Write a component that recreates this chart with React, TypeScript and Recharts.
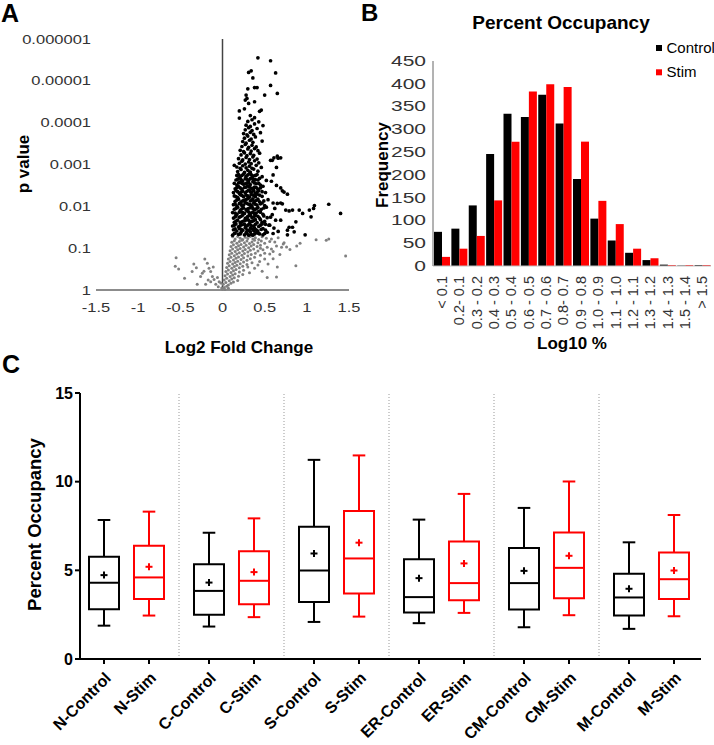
import React from 'react'
import {
  ScatterChart,
  Scatter,
  BarChart,
  Bar,
  ComposedChart,
  XAxis,
  YAxis,
  ReferenceLine,
  ReferenceArea,
} from 'recharts'

const FONT = '"Liberation Sans", Arial, Helvetica, sans-serif'

// ---------- A: volcano plot, [log2 fold change, -log10 p value]
const foldTicks = [-1.5, -1, -0.5, 0, 0.5, 1, 1.5]
const pTicks = [0, 1, 2, 3, 4, 5, 6]
const pTickLabels = ['1', '0.1', '0.01', '0.001', '0.0001', '0.00001', '0.000001']

const significantPoints: [number, number][] = [
  [0.42, 5.55], [0.57, 5.48], [0.63, 5.19], [0.34, 5.24], [0.31, 5.2], [0.36, 5.07], [0.41, 4.84], [0.38, 4.84],
  [0.57, 4.89], [0.65, 4.7], [0.5, 4.66], [0.3, 4.81], [0.28, 4.66], [0.29, 4.58], [0.27, 4.54], [0.38, 4.5],
  [0.31, 4.46], [0.2, 4.28], [0.26, 4.33], [0.44, 4.27], [0.46, 4.3], [0.2, 4.11], [0.33, 4.17], [0.38, 4.12],
  [0.65, 3.2], [0.59, 3.1], [0.66, 3.15], [0.69, 3.16], [0.61, 3.16], [0.57, 3.1], [0.14, 2.98], [0.64, 2.93],
  [0.64, 2.5], [0.69, 2.44], [0.73, 2.34], [0.77, 2.29], [0.6, 2.08], [0.65, 2.07], [0.69, 2.08], [0.71, 2.06],
  [0.75, 1.91], [0.79, 1.89], [0.83, 1.91], [0.91, 1.91], [1.03, 1.91], [1.08, 1.95], [1.09, 2.02], [1.26, 2.05],
  [1.4, 1.83], [0.95, 1.83], [1.05, 1.75], [0.63, 1.67], [0.69, 1.67], [0.87, 1.63], [0.79, 1.5], [0.83, 1.5],
  [0.77, 1.43], [0.85, 1.39], [0.98, 1.32], [0.77, 1.32], [0.66, 1.4], [0.61, 1.48], [0.71, 2.37], [0.58, 2.6],
  [0.6, 2.75], [0.62, 1.95], [0.59, 1.8], [0.56, 1.55], [0.6, 1.35],
  [0.12, 1.31], [0.15, 1.36], [0.19, 1.33], [0.22, 1.38], [0.26, 1.32], [0.29, 1.35], [0.33, 1.39], [0.36, 1.31],
  [0.4, 1.37], [0.44, 1.34], [0.48, 1.32], [0.53, 1.38], [0.13, 1.44], [0.17, 1.41], [0.2, 1.47], [0.24, 1.43],
  [0.27, 1.49], [0.31, 1.42], [0.35, 1.46], [0.38, 1.48], [0.42, 1.41], [0.46, 1.45], [0.51, 1.43], [0.12, 1.53],
  [0.16, 1.58], [0.19, 1.51], [0.23, 1.56], [0.28, 1.52], [0.32, 1.59], [0.34, 1.54], [0.39, 1.57], [0.43, 1.52],
  [0.47, 1.58], [0.55, 1.55], [0.14, 1.62], [0.18, 1.67], [0.21, 1.61], [0.25, 1.65], [0.29, 1.69], [0.33, 1.63],
  [0.37, 1.66], [0.41, 1.61], [0.45, 1.68], [0.5, 1.64], [0.13, 1.72], [0.16, 1.77], [0.2, 1.74], [0.24, 1.79],
  [0.27, 1.71], [0.3, 1.76], [0.35, 1.73], [0.39, 1.78], [0.44, 1.72], [0.49, 1.77], [0.57, 1.74], [0.12, 1.85],
  [0.17, 1.81], [0.22, 1.87], [0.26, 1.83], [0.29, 1.89], [0.32, 1.82], [0.36, 1.86], [0.4, 1.84], [0.43, 1.88],
  [0.48, 1.81], [0.14, 1.93], [0.18, 1.98], [0.21, 1.91], [0.25, 1.96], [0.3, 1.94], [0.34, 1.99], [0.38, 1.92],
  [0.42, 1.97], [0.46, 1.93], [0.52, 1.98], [0.13, 2.04], [0.17, 2.01], [0.2, 2.07], [0.23, 2.02], [0.27, 2.09],
  [0.31, 2.05], [0.35, 2.01], [0.37, 2.08], [0.41, 2.03], [0.45, 2.06], [0.5, 2.02], [0.15, 2.12], [0.19, 2.17],
  [0.22, 2.11], [0.26, 2.15], [0.3, 2.19], [0.33, 2.13], [0.36, 2.18], [0.4, 2.14], [0.44, 2.11], [0.54, 2.16],
  [0.14, 2.25], [0.18, 2.21], [0.21, 2.28], [0.25, 2.23], [0.28, 2.27], [0.32, 2.22], [0.37, 2.26], [0.41, 2.29],
  [0.47, 2.24], [0.13, 2.33], [0.16, 2.38], [0.2, 2.31], [0.24, 2.36], [0.27, 2.32], [0.31, 2.39], [0.35, 2.34],
  [0.39, 2.31], [0.43, 2.37], [0.51, 2.33], [0.15, 2.42], [0.19, 2.47], [0.23, 2.41], [0.26, 2.45], [0.3, 2.49],
  [0.34, 2.43], [0.38, 2.46], [0.42, 2.41], [0.48, 2.48], [0.14, 2.55], [0.17, 2.51], [0.21, 2.58], [0.25, 2.53],
  [0.29, 2.56], [0.33, 2.52], [0.36, 2.59], [0.4, 2.54], [0.45, 2.51], [0.16, 2.63], [0.2, 2.68], [0.24, 2.61],
  [0.27, 2.66], [0.31, 2.62], [0.35, 2.69], [0.39, 2.64], [0.44, 2.67], [0.52, 2.62], [0.17, 2.74], [0.21, 2.71],
  [0.25, 2.77], [0.28, 2.72], [0.32, 2.78], [0.36, 2.73], [0.41, 2.76], [0.47, 2.71], [0.18, 2.83], [0.22, 2.88],
  [0.26, 2.81], [0.3, 2.86], [0.33, 2.82], [0.37, 2.89], [0.42, 2.84], [0.17, 2.94], [0.21, 2.91], [0.24, 2.97],
  [0.28, 2.92], [0.32, 2.96], [0.35, 2.91], [0.4, 2.98], [0.46, 2.93], [0.2, 3.03], [0.23, 3.08], [0.27, 3.01],
  [0.31, 3.06], [0.34, 3.02], [0.38, 3.09], [0.43, 3.04], [0.19, 3.14], [0.24, 3.11], [0.28, 3.17], [0.32, 3.12],
  [0.36, 3.18], [0.41, 3.13], [0.22, 3.23], [0.26, 3.28], [0.29, 3.21], [0.33, 3.26], [0.37, 3.22], [0.44, 3.27],
  [0.21, 3.34], [0.25, 3.31], [0.3, 3.37], [0.34, 3.32], [0.38, 3.38], [0.42, 3.33], [0.23, 3.43], [0.27, 3.48],
  [0.31, 3.41], [0.35, 3.46], [0.4, 3.42], [0.24, 3.55], [0.28, 3.51], [0.32, 3.58], [0.36, 3.53], [0.47, 3.56],
  [0.26, 3.63], [0.3, 3.68], [0.34, 3.61], [0.39, 3.66], [0.25, 3.74], [0.29, 3.71], [0.33, 3.77], [0.37, 3.72],
  [0.45, 3.76], [0.27, 3.83], [0.31, 3.88], [0.35, 3.81], [0.41, 3.86], [0.28, 3.94], [0.33, 3.91], [0.38, 3.97],
  [0.48, 3.93], [0.3, 4.03], [0.35, 4.07], [0.43, 4.02],
  [0.14, 1.35], [0.21, 1.34], [0.28, 1.37], [0.34, 1.33], [0.42, 1.36], [0.5, 1.35], [0.31, 1.31], [0.38, 1.34],
  [0.15, 1.46], [0.22, 1.45], [0.29, 1.44], [0.33, 1.48], [0.4, 1.44], [0.48, 1.47], [0.37, 1.42], [0.14, 1.55],
  [0.21, 1.54], [0.26, 1.57], [0.3, 1.55], [0.37, 1.53], [0.45, 1.55], [0.51, 1.57], [0.16, 1.65], [0.23, 1.63],
  [0.27, 1.66], [0.31, 1.67], [0.35, 1.64], [0.39, 1.68], [0.47, 1.62], [0.15, 1.75], [0.22, 1.76], [0.29, 1.73],
  [0.33, 1.78], [0.37, 1.75], [0.42, 1.76], [0.53, 1.73], [0.15, 1.84], [0.2, 1.86], [0.24, 1.85], [0.31, 1.87],
  [0.34, 1.84], [0.38, 1.83], [0.45, 1.86], [0.16, 1.95], [0.23, 1.94], [0.28, 1.92], [0.32, 1.96], [0.36, 1.95],
  [0.4, 1.94], [0.49, 1.96], [0.15, 2.06], [0.22, 2.05], [0.25, 2.03], [0.29, 2.07], [0.33, 2.04], [0.39, 2.05],
  [0.47, 2.08], [0.17, 2.15], [0.24, 2.13], [0.28, 2.16], [0.35, 2.15], [0.38, 2.12], [0.42, 2.17], [0.49, 2.13],
  [0.16, 2.23], [0.23, 2.26], [0.3, 2.25], [0.34, 2.28], [0.39, 2.23], [0.44, 2.27], [0.18, 2.35], [0.22, 2.34],
  [0.29, 2.36], [0.33, 2.35], [0.37, 2.38], [0.41, 2.34], [0.47, 2.35], [0.17, 2.45], [0.21, 2.44], [0.28, 2.46],
  [0.32, 2.47], [0.36, 2.43], [0.4, 2.45], [0.45, 2.44], [0.19, 2.56], [0.23, 2.55], [0.27, 2.54], [0.31, 2.57],
  [0.38, 2.56], [0.43, 2.55], [0.18, 2.65], [0.22, 2.64], [0.29, 2.65], [0.33, 2.66], [0.37, 2.65], [0.42, 2.63],
  [0.19, 2.76], [0.23, 2.74], [0.3, 2.75], [0.34, 2.76], [0.39, 2.74],
]

const otherPoints: [number, number][] = [
  [0.12, 1.27], [0.15, 1.22], [0.18, 1.28], [0.21, 1.24], [0.24, 1.21], [0.27, 1.26], [0.3, 1.23], [0.33, 1.28],
  [0.36, 1.22], [0.39, 1.25], [0.43, 1.21], [0.47, 1.27], [0.52, 1.24], [0.58, 1.22], [0.66, 1.25], [0.11, 1.14],
  [0.14, 1.18], [0.17, 1.12], [0.2, 1.16], [0.23, 1.19], [0.26, 1.13], [0.29, 1.17], [0.32, 1.11], [0.35, 1.15],
  [0.38, 1.19], [0.42, 1.13], [0.46, 1.17], [0.5, 1.12], [0.56, 1.16], [0.72, 1.1], [0.1, 1.04], [0.13, 1.08],
  [0.16, 1.02], [0.19, 1.06], [0.22, 1.09], [0.25, 1.03], [0.28, 1.07], [0.31, 1.01], [0.34, 1.05], [0.37, 1.09],
  [0.41, 1.04], [0.45, 1.07], [0.53, 1.02], [0.64, 1.05], [0.76, 1.03], [0.09, 0.94], [0.12, 0.98], [0.15, 0.92],
  [0.18, 0.96], [0.21, 0.99], [0.24, 0.93], [0.27, 0.97], [0.3, 0.91], [0.33, 0.95], [0.37, 0.98], [0.42, 0.93],
  [0.48, 0.96], [0.6, 0.92], [0.8, 0.97], [0.08, 0.84], [0.11, 0.88], [0.14, 0.82], [0.17, 0.86], [0.2, 0.89],
  [0.23, 0.83], [0.26, 0.87], [0.3, 0.81], [0.34, 0.85], [0.39, 0.88], [0.45, 0.83], [0.56, 0.86], [0.07, 0.74],
  [0.1, 0.78], [0.13, 0.72], [0.16, 0.76], [0.19, 0.79], [0.22, 0.73], [0.25, 0.77], [0.29, 0.71], [0.33, 0.75],
  [0.38, 0.78], [0.5, 0.74], [0.06, 0.64], [0.09, 0.68], [0.12, 0.62], [0.15, 0.66], [0.18, 0.69], [0.21, 0.63],
  [0.25, 0.67], [0.29, 0.61], [0.35, 0.65], [0.44, 0.68], [0.05, 0.54], [0.08, 0.58], [0.11, 0.52], [0.14, 0.56],
  [0.17, 0.59], [0.2, 0.53], [0.24, 0.57], [0.3, 0.55], [0.38, 0.52], [0.04, 0.44], [0.07, 0.48], [0.1, 0.42],
  [0.13, 0.46], [0.16, 0.49], [0.2, 0.43], [0.25, 0.47], [0.32, 0.41], [0.03, 0.34], [0.06, 0.38], [0.09, 0.32],
  [0.12, 0.36], [0.15, 0.39], [0.19, 0.33], [0.24, 0.37], [0.02, 0.24], [0.05, 0.28], [0.08, 0.22], [0.11, 0.26],
  [0.14, 0.29], [0.18, 0.23], [0.01, 0.14], [0.04, 0.18], [0.07, 0.12], [0.1, 0.16], [0.13, 0.19], [-0.02, 0.17],
  [0, 0.02], [0.02, 0.06], [0.05, 0.09], [-0.01, 0.05], [0.07, 0.04], [0.03, 0.01],
  [-0.55, 0.77], [-0.56, 0.57], [-0.52, 0.5], [-0.45, 0.28], [-0.34, 0.62], [-0.31, 0.53], [-0.24, 0.4],
  [-0.21, 0.74], [-0.18, 0.64], [-0.16, 0.52], [-0.14, 0.44], [-0.12, 0.32], [-0.26, 0.32], [-0.3, 0.14],
  [-0.2, 0.14], [-0.14, 0.2], [-0.08, 0.14], [-0.05, 0.08], [-0.1, 0.25], [-0.06, 0.3], [-0.17, 0.24],
  [-0.22, 0.45], [-0.11, 0.55], [-0.04, 0.2], [-0.36, 0.44],
  [0.65, 0.55], [0.87, 0.58], [0.53, 0.3], [1.46, 0.81], [1.11, 1.2], [1.23, 1.19], [1.26, 1.22], [0.7, 1.02],
  [0.73, 1.13], [0.62, 1.15], [0.58, 0.98], [0.68, 0.85], [0.54, 0.62], [0.47, 0.45], [0.42, 0.6], [0.88, 1.05],
  [0.92, 1.12], [0.5, 0.88], [0.45, 1.0], [0.6, 0.75], [0.64, 0.31],
]

// ---------- B: histogram of percent occupancy
const bins = [
  '< 0.1', '0.2- 0.1', '0.3 - 0.2', '0.4 - 0.3', '0.5 - 0.4', '0.6 - 0.5', '0.7 - 0.6', '0.8- 0.7',
  '0.9 - 0.8', '1.0 - 0.9', '1.1 - 1.0', '1.2 - 1.1', '1.3 - 1.2', '1.4 - 1.3', '1.5 - 1.4', '> 1.5',
]
const controlFreq = [75, 82, 133, 246, 334, 327, 376, 313, 191, 104, 56, 29, 13, 3, 1, 2]
const stimFreq = [20, 38, 66, 144, 273, 383, 399, 393, 273, 143, 92, 38, 17, 2, 2, 2]
const freqTicks = [0, 50, 100, 150, 200, 250, 300, 350, 400, 450]

// ---------- C: box plots
const boxNames = [
  'N-Control', 'N-Stim', 'C-Control', 'C-Stim', 'S-Control', 'S-Stim',
  'ER-Control', 'ER-Stim', 'CM-Control', 'CM-Stim', 'M-Control', 'M-Stim',
]
const boxMin = [1.88, 2.45, 1.83, 2.36, 2.09, 2.39, 2.02, 2.6, 1.79, 2.47, 1.7, 2.41]
const boxQ1 = [2.81, 3.39, 2.49, 3.09, 3.22, 3.69, 2.62, 3.32, 2.79, 3.43, 2.45, 3.39]
const boxMedian = [4.3, 4.6, 3.84, 4.41, 4.99, 5.67, 3.49, 4.28, 4.28, 5.14, 3.47, 4.5]
const boxQ3 = [5.77, 6.39, 5.35, 6.07, 7.46, 8.35, 5.63, 6.63, 6.26, 7.14, 4.81, 6.01]
const boxMax = [7.84, 8.31, 7.12, 7.93, 11.23, 11.48, 7.86, 9.31, 8.52, 10.01, 6.58, 8.12]
const boxMean = [4.73, 5.2, 4.31, 4.9, 5.95, 6.56, 4.56, 5.39, 4.97, 5.82, 3.96, 4.99]
const occTicks = [0, 5, 10, 15]

// group layout on the numeric x axis: pairs 3 apart, groups 7 apart
const slot = (i: number) => Math.floor(i / 2) * 7 + (i % 2) * 3

const volcanoSig = significantPoints.map(([x, y]) => ({ x, y }))
const volcanoOther = otherPoints.map(([x, y]) => ({ x, y }))
const histData = bins.map((bin, i) => ({ bin, control: controlFreq[i], stim: stimFreq[i] }))
const boxes = boxNames.map((name, i) => ({
  name,
  x: slot(i),
  min: boxMin[i],
  q1: boxQ1[i],
  median: boxMedian[i],
  q3: boxQ3[i],
  max: boxMax[i],
  mean: boxMean[i],
  color: i % 2 === 0 ? '#000000' : '#ff0000',
}))
const boxSlots = boxes.map((b) => b.x)
const dividers = [0, 1, 2, 3, 4].map((g) => g * 7 + 5)

const dot = (fill: string, r: number) => (p: any) => <circle cx={p.cx} cy={p.cy} r={r} fill={fill} />

const MeanCross = (p: any) => (
  <g stroke={p.payload.color} strokeWidth={2}>
    <line x1={p.cx - 3.5} x2={p.cx + 3.5} y1={p.cy} y2={p.cy} />
    <line x1={p.cx} x2={p.cx} y1={p.cy - 3.5} y2={p.cy + 3.5} />
  </g>
)

const stretched = (scale: number, size: number, label: (v: any) => string) => (p: any) => (
  <text
    transform={`translate(${p.x},${p.y}) scale(${scale},1)`}
    textAnchor={p.textAnchor}
    dy="0.35em"
    fontSize={size}
    fontFamily={FONT}
    fill="#333"
  >
    {label(p.payload.value)}
  </text>
)

const BinTick = (p: any) => (
  <text
    transform={`translate(${p.x},${p.y}) rotate(-90)`}
    textAnchor="end"
    dy="0.35em"
    fontSize={14.5}
    fontFamily={FONT}
    fill="#333"
  >
    {p.payload.value}
  </text>
)

const BoxTick = (p: any) => {
  const name = boxNames[boxSlots.indexOf(p.payload.value)]
  const ax = p.x + 8
  const ay = p.y + 13
  return (
    <text
      x={ax}
      y={ay}
      transform={`rotate(-45 ${ax} ${ay})`}
      textAnchor="end"
      fontSize={16}
      fontWeight={700}
      fontFamily={FONT}
      fill="#000"
    >
      {name}
    </text>
  )
}

const boxMarks = boxes.flatMap((b) => {
  const s = { stroke: b.color, strokeWidth: 2 }
  return [
    <ReferenceArea key={b.name + '-box'} x1={b.x - 1} x2={b.x + 1} y1={b.q1} y2={b.q3} fill="none" fillOpacity={0} {...s} />,
    <ReferenceLine key={b.name + '-med'} segment={[{ x: b.x - 1, y: b.median }, { x: b.x + 1, y: b.median }]} {...s} />,
    <ReferenceLine key={b.name + '-lo'} segment={[{ x: b.x, y: b.min }, { x: b.x, y: b.q1 }]} {...s} />,
    <ReferenceLine key={b.name + '-hi'} segment={[{ x: b.x, y: b.q3 }, { x: b.x, y: b.max }]} {...s} />,
    <ReferenceLine key={b.name + '-locap'} segment={[{ x: b.x - 0.42, y: b.min }, { x: b.x + 0.42, y: b.min }]} {...s} />,
    <ReferenceLine key={b.name + '-hicap'} segment={[{ x: b.x - 0.42, y: b.max }, { x: b.x + 0.42, y: b.max }]} {...s} />,
  ]
})

export default function App() {
  return (
    <div style={{ position: 'absolute', left: 0, top: 0, width: 714, height: 745, background: '#fff', fontFamily: FONT }}>
      <div style={{ position: 'absolute', left: 0, top: 0 }}>
        <ScatterChart width={360} height={360} margin={{ top: 39, right: 11, bottom: 10, left: 0 }}>
          <XAxis
            type="number"
            dataKey="x"
            domain={[-1.5, 1.5]}
            ticks={foldTicks}
            interval={0}
            height={60}
            axisLine={{ stroke: '#666', strokeWidth: 1.5 }}
            tickLine={false}
            tickSize={0}
            tickMargin={17}
            tick={stretched(1.27, 13, (v) => String(v))}
          />
          <YAxis
            type="number"
            dataKey="y"
            domain={[0, 6]}
            ticks={pTicks}
            interval={0}
            width={96}
            axisLine={false}
            tickLine={false}
            tickSize={0}
            tickMargin={5}
            tick={stretched(1.27, 13, (v) => pTickLabels[v])}
          />
          <ReferenceLine x={0} stroke="#444" strokeWidth={1.5} />
          <Scatter data={volcanoOther} fill="#808080" shape={dot('#808080', 1.5)} isAnimationActive={false} />
          <Scatter data={volcanoSig} fill="#000" shape={dot('#000', 1.85)} isAnimationActive={false} />
        </ScatterChart>
      </div>

      <div style={{ position: 'absolute', left: 360, top: 0 }}>
        <BarChart width={354} height={360} data={histData} margin={{ top: 61, right: 3, bottom: 0, left: 0 }} barGap={0} barCategoryGap={1}>
          <XAxis
            dataKey="bin"
            interval={0}
            height={94}
            axisLine={{ stroke: '#bfbfbf' }}
            tickLine={false}
            tickSize={0}
            tickMargin={10}
            tick={BinTick}
          />
          <YAxis
            domain={[0, 450]}
            ticks={freqTicks}
            interval={0}
            width={73}
            axisLine={{ stroke: '#666' }}
            tickLine={false}
            tickSize={0}
            tickMargin={7}
            tick={stretched(1.5, 14, (v) => String(v))}
          />
          <Bar dataKey="control" fill="#000000" isAnimationActive={false} />
          <Bar dataKey="stim" fill="#ff0000" isAnimationActive={false} />
        </BarChart>
      </div>

      <div style={{ position: 'absolute', left: 0, top: 360 }}>
        <ComposedChart width={714} height={385} margin={{ top: 33, right: 13, bottom: 0, left: 0 }}>
          <XAxis
            type="number"
            dataKey="x"
            domain={[-1.6, 39.8]}
            ticks={boxSlots}
            interval={0}
            height={86}
            axisLine={{ stroke: '#000', strokeWidth: 2 }}
            tickLine={{ stroke: '#000', strokeWidth: 2 }}
            tickSize={5}
            tickMargin={2}
            tick={BoxTick}
          />
          <YAxis
            type="number"
            dataKey="mean"
            domain={[0, 15]}
            ticks={occTicks}
            interval={0}
            width={80}
            axisLine={{ stroke: '#000', strokeWidth: 2 }}
            tickLine={{ stroke: '#000', strokeWidth: 2 }}
            tickSize={5}
            tickMargin={2}
            tick={{ fontSize: 16, fontWeight: 700, fill: '#000', fontFamily: FONT }}
          />
          {dividers.map((d) => (
            <ReferenceLine key={'div' + d} x={d} stroke="#999" strokeDasharray="1 2" />
          ))}
          {boxMarks}
          <Scatter data={boxes} dataKey="mean" shape={MeanCross} isAnimationActive={false} />
        </ComposedChart>
      </div>

      <svg width={714} height={745} style={{ position: 'absolute', left: 0, top: 0, pointerEvents: 'none' }} fontFamily={FONT}>
        <text x={1} y={22} fontSize={25} fontWeight={700}>A</text>
        <text transform="translate(29,164) rotate(-90)" textAnchor="middle" fontSize={17} fontWeight={700}>p value</text>
        <text x={239} y={353} textAnchor="middle" fontSize={17} fontWeight={700}>Log2 Fold Change</text>

        <text x={361} y={21} fontSize={24} fontWeight={700}>B</text>
        <text x={561} y={29} textAnchor="middle" fontSize={19} fontWeight={700}>Percent Occupancy</text>
        <text transform="translate(388,165) rotate(-90)" textAnchor="middle" fontSize={17} fontWeight={700}>Frequency</text>
        <text x={572} y={349} textAnchor="middle" fontSize={17} fontWeight={700}>Log10 %</text>
        <rect x={656} y={45} width={6} height={6} fill="#000000" />
        <text x={666.5} y={53.3} fontSize={15}>Control</text>
        <rect x={656} y={69.3} width={6} height={6} fill="#ff0000" />
        <text x={666.5} y={76.7} fontSize={15}>Stim</text>

        <text x={2} y={373} fontSize={25} fontWeight={700}>C</text>
        <text transform="translate(41,524.5) rotate(-90)" textAnchor="middle" fontSize={18.5} fontWeight={700}>Percent Occupancy</text>
      </svg>
    </div>
  )
}
